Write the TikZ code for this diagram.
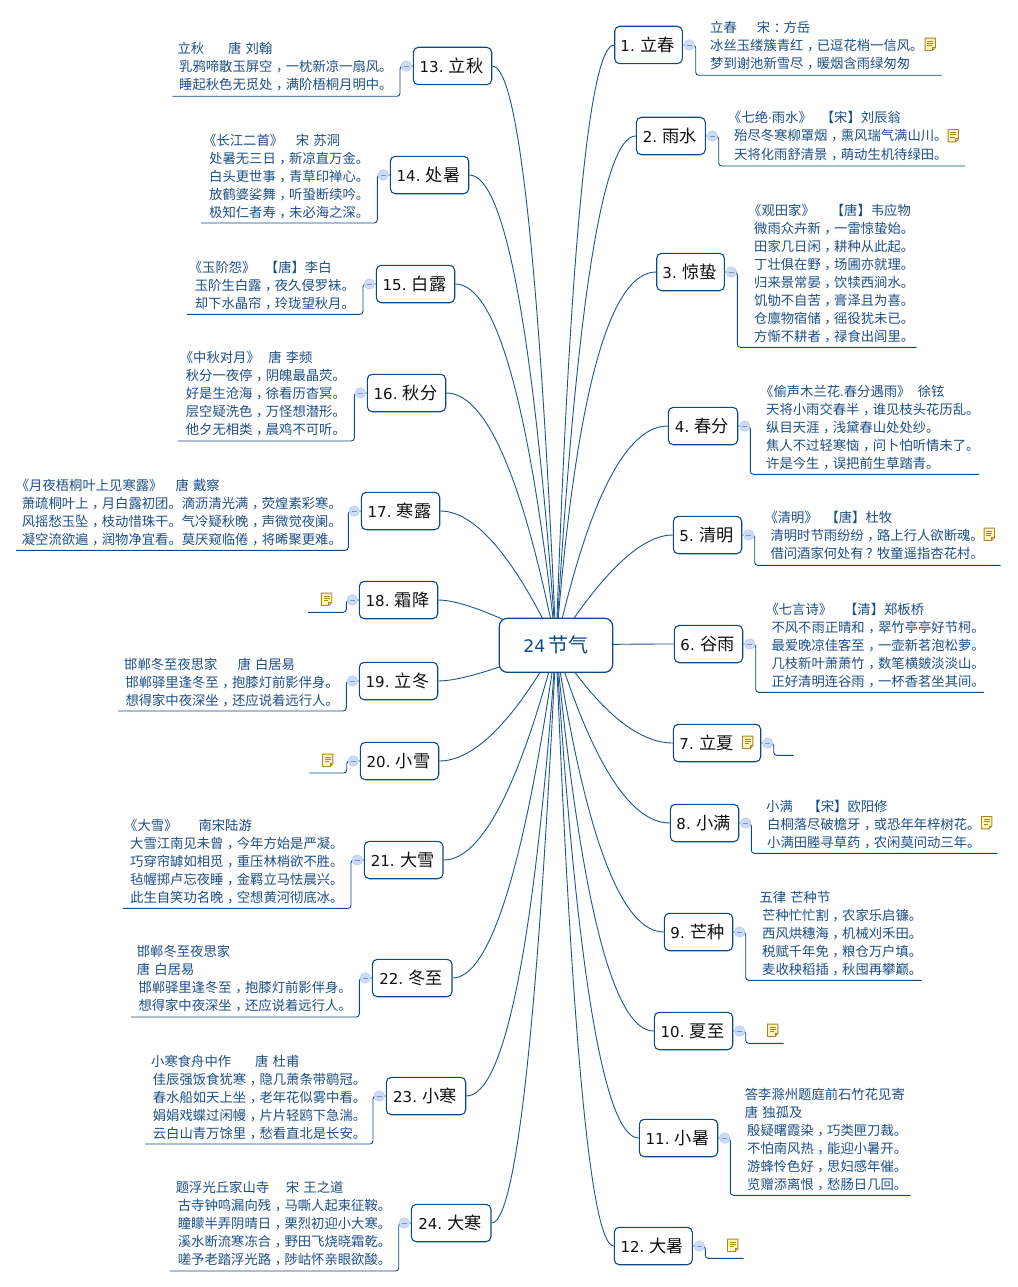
\documentclass[tikz,border=0pt]{standalone}
\usepackage{fontspec}
\setmainfont{Noto Sans CJK SC}
\newfontfamily\latinf{DejaVu Sans}
\usetikzlibrary{backgrounds}
\definecolor{mainblue}{HTML}{0B4A8A}
\definecolor{linkblue}{HTML}{1B5690}
\definecolor{poemblue}{HTML}{1D4F86}
\definecolor{branchtext}{HTML}{101010}
\definecolor{togglefill}{HTML}{CBDBF9}
\definecolor{toggleline}{HTML}{B0C6EC}
\definecolor{toggleminus}{HTML}{7F93B5}
\definecolor{notefill}{HTML}{FFF3C4}
\definecolor{noteline}{HTML}{AE861C}
\newcommand\gap[1]{\hspace*{#1pt}}
\newcommand\Lq{\hspace*{-6pt}《}
\newcommand\nb[1]{\hspace*{-2pt}{\fontsize{15}{15}\latinf #1 }\kern-1pt\relax}
\newcommand\dotl[1]{{\fontsize{11.5}{11.5}\latinf #1}}
% full-width comma, colon and question mark sit in the middle of their cell in the reference
\catcode`\，=\active \def，{\kern3.6pt\char"FF0C\kern-3.6pt\relax}
\catcode`\：=\active \def：{\kern3.6pt\char"FF1A\kern-3.6pt\relax}
\catcode`\？=\active \def？{\kern2pt\char"FF1F\kern-2pt\relax}
\tikzset{
  centerbox/.style={draw=mainblue,line width=1.2pt,fill=white,rounded corners=8pt,inner sep=0pt,
    minimum width=113.4pt,minimum height=54pt,text=mainblue,font=\fontsize{20}{20}\selectfont},
  branchbox/.style={draw=mainblue,line width=1.1pt,fill=white,rounded corners=5pt,inner sep=0pt,
    minimum height=37.4pt,text=branchtext,font=\fontsize{17.2}{17.2}\selectfont},
  togglenode/.style={circle,fill=togglefill,draw=toggleline,line width=.4pt,inner sep=0pt,minimum size=10.6pt,
    path picture={\draw[toggleminus,line width=.7pt] ([xshift=-2.6pt]path picture bounding box.center) -- ([xshift=2.6pt]path picture bounding box.center);}},
  linkcurve/.style={draw=linkblue,line width=.9pt},
  subline/.style={draw=mainblue,line width=.9pt,rounded corners=3pt},
  poemtext/.style={anchor=north west,align=left,inner sep=0pt,text=poemblue,font=\fontsize{13.33}{18}\selectfont},
}
% #1 n, #2 text, #3 x0, #4 x1, #5 cy, #6 curve control x, #7 bracket x, #8 underline y, #9 underline end x
\newcommand\BranchR[9]{%
  \pgfmathsetmacro\cxa{556+2/3*(#6-556)}\pgfmathsetmacro\cya{645.3+2/3*(#5-645.3)}\pgfmathsetmacro\cxb{#3+2/3*(#6-#3)}%
  \pgfmathsetmacro\bw{#4-#3}\pgfmathsetmacro\bc{(#3+#4)/2}%
  \node[branchbox,minimum width=\bw pt] (b#1) at (\bc,#5) {#2};
  \node[togglenode] (t#1) at (#4+7,#5) {};
  \coordinate (k#1) at (#7,#5); \coordinate (m#1) at (#7,#8); \coordinate (e#1) at (#9,#8);
  \begin{scope}[on background layer]
    \draw[linkcurve] (c.center) .. controls (\cxa,\cya) and (\cxb,#5) .. (b#1.west);
    \draw[subline] (b#1.east) -- (k#1) -- (m#1) -- (e#1);
  \end{scope}
}
\newcommand\BranchL[9]{%
  \pgfmathsetmacro\cxa{556+2/3*(#6-556)}\pgfmathsetmacro\cya{645.3+2/3*(#5-645.3)}\pgfmathsetmacro\cxb{#4+2/3*(#6-#4)}%
  \pgfmathsetmacro\bw{#4-#3}\pgfmathsetmacro\bc{(#3+#4)/2}%
  \node[branchbox,minimum width=\bw pt] (b#1) at (\bc,#5) {#2};
  \node[togglenode] (t#1) at (#3-7,#5) {};
  \coordinate (k#1) at (#7,#5); \coordinate (m#1) at (#7,#8); \coordinate (e#1) at (#9,#8);
  \begin{scope}[on background layer]
    \draw[linkcurve] (c.center) .. controls (\cxa,\cya) and (\cxb,#5) .. (b#1.east);
    \draw[subline] (b#1.west) -- (k#1) -- (m#1) -- (e#1);
  \end{scope}
}
\newcommand\Poem[4]{\node[poemtext] (#1) at (#2,#3-6.7) {\rule{0pt}{11.5pt}#4};}
\newcommand\NoteIcon[2]{%
  \begin{scope}[shift={(#1,#2)}]
    \filldraw[fill=notefill,draw=noteline,line width=.9pt] (-5.2,-6.2) -- (5.2,-6.2) -- (5.2,3.2) -- (2.2,6.2) -- (-5.2,6.2) -- cycle;
    \draw[noteline,line width=.8pt] (5.2,3.2) -- (2.2,3.2) -- (2.2,6.2);
    \draw[noteline,line width=.7pt] (-3,-3.4) -- (3,-3.4) (-3,-1) -- (3,-1) (-3,1.4) -- (1.5,1.4);
  \end{scope}}
\begin{document}
\begin{tikzpicture}[x=1pt,y=-1pt]
\useasboundingbox (0,0) rectangle (1017,1287);
\begin{scope}[on background layer]
  \fill[white] (0,0) rectangle (1017,1287);
\end{scope}
\node[centerbox] (c) at (556,645.3) {{\fontsize{17.3}{17.3}\latinf 24}\,节气};

\BranchR{1}{\nb{1.}立春}{614.7}{682.3}{45}{577}{695.7}{75.3}{941.7}
\BranchR{2}{\nb{2.}雨水}{636.3}{705.3}{136}{586}{718.7}{166}{965}
\BranchR{3}{\nb{3.}惊蛰}{656.7}{724.3}{272}{585}{737.3}{347.3}{916.7}
\BranchR{4}{\nb{4.}春分}{668.3}{737.7}{426}{605}{750.3}{474.3}{979}
\BranchR{5}{\nb{5.}清明}{673.3}{741.7}{535}{626}{754.7}{565.3}{1000.7}
\BranchR{6}{\nb{6.}谷雨}{674.3}{742.7}{644}{620}{755.7}{692.3}{984}
\BranchR{7}{\nb{7.}立夏\hspace*{19pt}}{673.3}{760.7}{743}{620}{773.7}{755.3}{793.7}
\BranchR{8}{\nb{8.}小满}{670.3}{738.7}{823}{611}{751.3}{853.3}{997.7}
\BranchR{9}{\nb{9.}芒种}{664.3}{732.7}{932}{600}{745.7}{980.3}{921.7}
\BranchR{10}{\nb{10.}夏至}{654.3}{732.7}{1031}{593}{745.7}{1043.3}{783.7}
\BranchR{11}{\nb{11.}小暑}{639.3}{717.7}{1138}{587}{730.3}{1195.3}{910.7}
\BranchR{12}{\nb{12.}大暑}{614.3}{692.3}{1246}{580}{705.3}{1258.3}{743.7}
\BranchL{13}{\nb{13.}立秋}{413.3}{491.7}{66}{531}{400}{96.3}{172.3}
\BranchL{14}{\nb{14.}处暑}{390.3}{468.7}{175}{523}{377.3}{223}{201}
\BranchL{15}{\nb{15.}白露}{376.3}{454.7}{284}{517}{363}{314.3}{187}
\BranchL{16}{\nb{16.}秋分}{367.3}{445.7}{393}{506}{354.3}{441}{178}
\BranchL{17}{\nb{17.}寒露}{361.3}{439.7}{511}{492}{348.3}{550.3}{16}
\BranchL{18}{\nb{18.}霜降}{359.3}{437.7}{600}{470}{346.3}{612.3}{308}
\BranchL{19}{\nb{19.}立冬}{359.3}{437.7}{681}{470}{346.3}{711}{118}
\BranchL{20}{\nb{20.}小雪}{360.3}{438.7}{761}{491}{346.7}{773}{309.3}
\BranchL{21}{\nb{21.}大雪}{364.3}{443}{860}{500}{351}{908.3}{123}
\BranchL{22}{\nb{22.}冬至}{372.3}{452}{978}{509}{359.3}{1017}{131}
\BranchL{23}{\nb{23.}小寒}{386.3}{465.7}{1096}{524}{373}{1144}{145}
\BranchL{24}{\nb{24.}大寒}{411.3}{491}{1223}{528}{398.7}{1271}{170}

\Poem{p1}{710}{28}{立春\gap{20}宋：方岳\\冰丝玉缕簇青红，已逗花梢一信风。\\梦到谢池新雪尽，暖烟含雨绿匆匆}
\Poem{p2}{734}{118}{\Lq 七绝{\dotl{·}}雨水》\gap{9}【宋】刘辰翁\\殆尽冬寒柳罩烟，熏风瑞气满山川。\\天将化雨舒清景，萌动生机待绿田。}
\Poem{p3}{754}{210}{\Lq 观田家》\gap{16}【唐】韦应物\\微雨众卉新，一雷惊蛰始。\\田家几日闲，耕种从此起。\\丁壮俱在野，场圃亦就理。\\归来景常晏，饮犊西涧水。\\饥劬不自苦，膏泽且为喜。\\仓廪物宿储，徭役犹未已。\\方惭不耕者，禄食出闾里。}
\Poem{p4}{766}{391}{\Lq 偷声木兰花{\dotl{.}}春分遇雨》\gap{7.4}徐铉\\天将小雨交春半，谁见枝头花历乱。\\纵目天涯，浅黛春山处处纱。\\焦人不过轻寒恼，问卜怕听情未了。\\许是今生，误把前生草踏青。}
\Poem{p5}{770.3}{517.7}{\Lq 清明》\gap{7.7}【唐】杜牧\\清明时节雨纷纷，路上行人欲断魂。\\借问酒家何处有？牧童遥指杏花村。}
\Poem{p6}{771.3}{609}{\Lq 七言诗》\gap{12}【清】郑板桥\\不风不雨正晴和，翠竹亭亭好节柯。\\最爱晚凉佳客至，一壶新茗泡松萝。\\几枝新叶萧萧竹，数笔横皴淡淡山。\\正好清明连谷雨，一杯香茗坐其间。}
\Poem{p8}{767}{806}{\hspace*{-1pt}小满\gap{14.7}【宋】欧阳修\\白桐落尽破檐牙，或恐年年梓树花。\\小满田塍寻草药，农闲莫问动三年。}
\Poem{p9}{762}{897.3}{\hspace*{-2.7pt}五律\gap{4.2}芒种节\\芒种忙忙割，农家乐启镰。\\西风烘穗海，机械刈禾田。\\税赋千年免，粮仓万户填。\\麦收秧稻插，秋囤再攀巅。}
\Poem{p11}{747}{1094}{\hspace*{-2.3pt}答李滁州题庭前石竹花见寄\\\hspace*{-2.3pt}唐\gap{4.2}独孤及\\殷疑曙霞染，巧类匣刀裁。\\不怕南风热，能迎小暑开。\\游蜂怜色好，思妇感年催。\\览赠添离恨，愁肠日几回。}
\Poem{p13}{179}{49}{\hspace*{-1.7pt}立秋\gap{24}唐\gap{4.2}刘翰\\乳鸦啼散玉屏空，一枕新凉一扇风。\\睡起秋色无觅处，满阶梧桐月明中。}
\Poem{p14}{209}{140}{\Lq 长江二首》\gap{12.7}宋\gap{4.2}苏洞\\处暑无三日，新凉直万金。\\白头更世事，青草印禅心。\\放鹤婆娑舞，听蛩断续吟。\\极知仁者寿，未必海之深。}
\Poem{p15}{194.7}{267}{\Lq 玉阶怨》\gap{9.4}【唐】李白\\玉阶生白露，夜久侵罗袜。\\却下水晶帘，玲珑望秋月。}
\Poem{p16}{185.7}{357.7}{\Lq 中秋对月》\gap{8.4}唐\gap{4.2}李频\\秋分一夜停，阴魄最晶荧。\\好是生沧海，徐看历杳冥。\\层空疑洗色，万怪想潜形。\\他夕无相类，晨鸡不可听。}
\Poem{p17}{21.7}{485}{\Lq 月夜梧桐叶上见寒露》\gap{13}唐\gap{4.2}戴察\\萧疏桐叶上，月白露初团。滴沥清光满，荧煌素彩寒。\\风摇愁玉坠，枝动惜珠干。气冷疑秋晚，声微觉夜阑。\\凝空流欲遍，润物净宜看。莫厌窥临倦，将晞聚更难。}
\Poem{p19}{125.3}{664}{\hspace*{-1.3pt}邯郸冬至夜思家\gap{20}唐\gap{4.2}白居易\\邯郸驿里逢冬至，抱膝灯前影伴身。\\想得家中夜深坐，还应说着远行人。}
\Poem{p21}{130}{825.3}{\Lq 大雪》\gap{21}南宋陆游\\大雪江南见未曾，今年方始是严凝。\\巧穿帘罅如相觅，重压林梢欲不胜。\\毡幄掷卢忘夜睡，金羁立马怯晨兴。\\此生自笑功名晚，空想黄河彻底冰。}
\Poem{p22}{138.3}{951.7}{\hspace*{-1.6pt}邯郸冬至夜思家\\\hspace*{-1.6pt}唐\gap{4.2}白居易\\邯郸驿里逢冬至，抱膝灯前影伴身。\\想得家中夜深坐，还应说着远行人。}
\Poem{p23}{152.7}{1061}{\hspace*{-1.7pt}小寒食舟中作\gap{24}唐\gap{4.2}杜甫\\佳辰强饭食犹寒，隐几萧条带鹖冠。\\春水船如天上坐，老年花似雾中看。\\娟娟戏蝶过闲幔，片片轻鸥下急湍。\\云白山青万馀里，愁看直北是长安。}
\Poem{p24}{177.7}{1187.7}{\hspace*{-2pt}题浮光丘家山寺\gap{16.7}宋\gap{4.2}王之道\\古寺钟鸣漏向残，马嘶人起束征鞍。\\瞳矇半弄阴晴日，栗烈初迎小大寒。\\溪水断流寒冻合，野田飞烧晓霜乾。\\嗟予老踏浮光路，陟岵怀亲眼欲酸。}

\NoteIcon{930.3}{44.3}
\NoteIcon{953.3}{135.7}
\NoteIcon{989.3}{534.3}
\NoteIcon{747.7}{742.3}
\NoteIcon{986.7}{822.7}
\NoteIcon{772.7}{1030.3}
\NoteIcon{732.7}{1245.3}
\NoteIcon{326.5}{599.3}
\NoteIcon{327.7}{760.3}
\end{tikzpicture}
\end{document}
